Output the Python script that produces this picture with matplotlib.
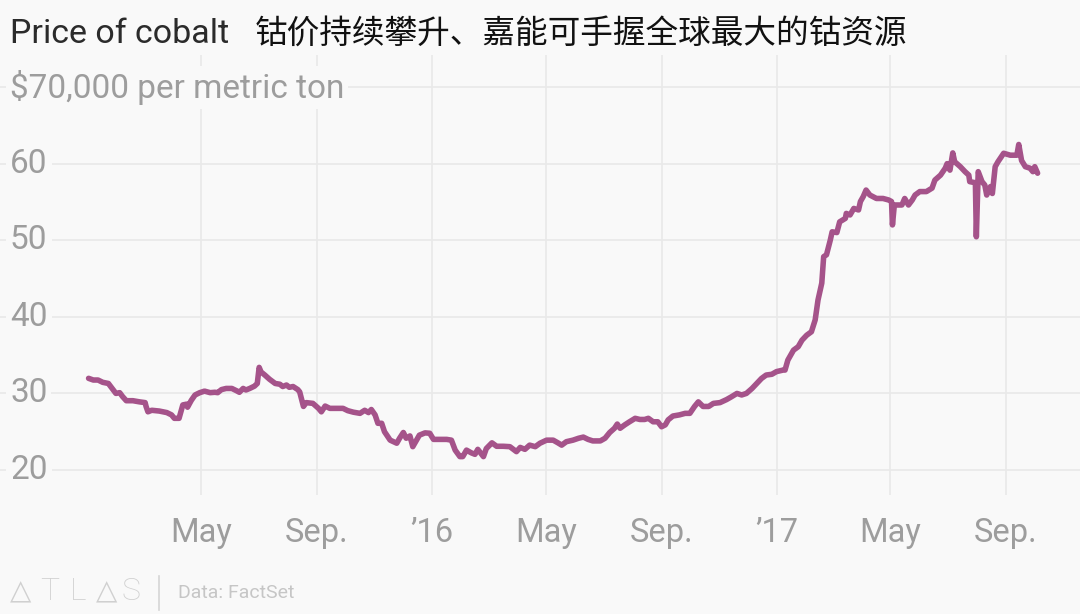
import numpy as np
import matplotlib
matplotlib.use("Agg")
import matplotlib.pyplot as plt
from matplotlib.lines import Line2D
import matplotlib.transforms as mtransforms

# Cobalt price, thousand $ per metric ton
# days counted from 2015-01-01
days = np.array([
    1, 6, 11, 16, 22, 27, 30, 34, 37, 41, 48, 55, 61, 62, 64, 68, 76, 84, 89, 92,
    97, 99, 101, 105, 106, 110, 114, 119, 124, 130, 135, 138, 142, 147, 153, 158,
    161, 165, 168, 172, 177, 180, 182, 184, 188, 193, 199, 204, 207, 211, 214, 218,
    223, 225, 229, 232, 239, 245, 248, 252, 257, 264, 271, 276, 282, 289, 294, 298,
    301, 305, 308, 312, 315, 321, 328, 331, 335, 338, 342, 345, 349, 352, 358, 363,
    367, 374, 381, 386, 390, 395, 398, 402, 407, 411, 414, 420, 423, 429, 434, 441,
    448, 455, 459, 464, 469, 475, 480, 487, 494, 499, 503, 508, 515, 521, 526, 531,
    536, 544, 549, 554, 559, 562, 565, 570, 575, 581, 586, 591, 595, 600, 605, 609,
    613, 616, 621, 628, 634, 639, 644, 648, 653, 659, 664, 671, 678, 683, 689, 694,
    699, 705, 710, 715, 720, 726, 731, 738, 740, 743, 749, 754, 758, 763, 768, 772,
    775, 779, 781, 784, 788, 790, 795, 798, 804, 805, 809, 813, 818, 820, 823, 826,
    830, 837, 844, 850, 853, 854, 856, 860, 864, 867, 871, 875, 878, 883, 890, 896,
    899, 905, 910, 912, 915, 918, 920, 926, 931, 935, 936, 942, 943, 945, 949, 952,
    954, 958, 960, 963, 966, 972, 979, 986, 988, 991, 995, 1000, 1003, 1005, 1008,
])
price = np.array([
    31.97, 31.75, 31.75, 31.45, 31.3, 30.5, 30.0, 30.1, 29.6, 29.05, 29.05, 28.9, 28.8, 28.3, 27.6, 27.8, 27.7, 27.5, 27.2, 26.75,
    26.75, 27.6, 28.5, 28.6, 28.2, 29.1, 29.8, 30.1, 30.3, 30.1, 30.15, 30.1, 30.5, 30.65, 30.65, 30.35,
    30.15, 30.65, 30.45, 30.65, 30.95, 31.3, 33.4, 32.8, 32.4, 31.85, 31.3, 31.2, 30.9, 31.1, 30.8, 30.9,
    30.5, 30.2, 28.3, 28.8, 28.7, 28.05, 27.6, 28.35, 28.05, 28.05, 28.05, 27.75, 27.55, 27.4, 27.8, 27.5,
    27.9, 27.2, 26.1, 26.1, 25.0, 23.9, 23.5, 24.15, 24.9, 24.15, 24.45, 23.05, 23.9, 24.55, 24.85, 24.8,
    24.0, 24.0, 24.0, 23.9, 22.6, 21.75, 21.75, 22.6, 22.25, 22.05, 22.7, 21.75, 22.8, 23.55, 23.1, 23.1,
    23.05, 22.4, 22.95, 22.7, 23.25, 23.05, 23.5, 23.9, 23.9, 23.55, 23.25, 23.7, 23.9, 24.15, 24.3, 24.0,
    23.8, 23.8, 24.15, 24.9, 25.45, 26.0, 25.45, 25.9, 26.3, 26.75, 26.6, 26.6, 26.75, 26.3, 26.3, 25.65,
    25.9, 26.55, 27.05, 27.2, 27.4, 27.4, 28.3, 28.9, 28.3, 28.3, 28.7, 28.8, 29.2, 29.55, 30.0, 29.8,
    30.0, 30.65, 31.3, 31.95, 32.4, 32.5, 32.85, 33.05, 33.05, 34.35, 35.65, 36.1, 36.95, 37.6, 38.05, 39.6,
    42.2, 44.4, 47.85, 48.1, 50.0, 51.1, 51.0, 52.4, 52.85, 53.5, 53.3, 54.15, 53.95, 55.05, 55.7, 56.55,
    55.9, 55.45, 55.45, 55.25, 55.05, 52.0, 54.6, 54.6, 54.6, 55.45, 54.6, 55.25, 55.9, 56.35, 56.35, 56.8,
    57.85, 58.5, 59.4, 60.0, 59.15, 61.4, 60.25, 59.6, 58.95, 58.5, 57.65, 57.5, 50.45, 58.95, 57.65, 57.2,
    55.9, 57.0, 56.1, 59.6, 60.25, 61.35, 61.1, 61.1, 62.5, 60.4, 59.6, 59.4, 58.95, 59.6, 58.75,
])

y_ticks = [20, 30, 40, 50, 60, 70]
y_labels = ["20", "30", "40", "50", "60", "$70,000 per metric ton"]
x_ticks = ["2015-05-01", "2015-09-01", "2016-01-01", "2016-05-01",
           "2016-09-01", "2017-01-01", "2017-05-01", "2017-09-01"]
x_labels = ["May", "Sep.", "\u201916", "May", "Sep.", "\u201917", "May", "Sep."]

start = np.datetime64("2015-01-01")
dates = start + days.astype("timedelta64[D]")

BG = "#f9f9f9"
LINE = "#a5538a"
GRID = "#e9e9e9"
LABEL = "#9d9d9d"
W, H = 1080, 614

plt.rcParams["font.family"] = ["Roboto", "DejaVu Sans"]

fig = plt.figure(figsize=(W / 100, H / 100), dpi=100, facecolor=BG)


def fx(px):
    return px / W


def fy(py):
    return 1 - py / H


ax = fig.add_axes([0, fy(495), 1, fy(55) - fy(495)])
ax.set_facecolor(BG)
ax.plot(dates, price, color=LINE, lw=4, solid_joinstyle="round",
        solid_capstyle="round", zorder=3)

ax.set_xlim(start - np.timedelta64(93, "D"), start + np.timedelta64(1053, "D"))
ax.set_ylim(16.74, 74.18)
for s in ax.spines.values():
    s.set_visible(False)

ax.set_yticks(y_ticks)
ax.set_xticks([np.datetime64(d) for d in x_ticks])
ax.set_xticklabels(x_labels)
ax.grid(True, color=GRID, lw=1.2, zorder=0)
ax.tick_params(axis="both", length=0)
ax.tick_params(axis="y", labelleft=False)
ax.tick_params(axis="x", labelsize=23.5, labelcolor=LABEL, pad=16)

trans = mtransforms.blended_transform_factory(ax.transAxes, ax.transData)
for v, lab in zip(y_ticks, y_labels):
    ax.text(fx(10), v, lab, transform=trans, ha="left", va="center",
            fontsize=24, color=LABEL, zorder=2,
            bbox=dict(fc=BG, ec="none", pad=3))

# title
fig.text(fx(10), fy(34), "Price of cobalt", fontsize=24.5, color="#2b2b2b",
         ha="left", va="center")
fig.text(fx(255), fy(34), "钴价持续攀升、嘉能可手握全球最大的钴资源",
         fontsize=23.5, color="#111111", ha="left", va="center",
         family=["Noto Sans CJK SC", "DejaVu Sans"])

# footer: ATLAS logo, separator, source
for ch, px in zip(["\u25b3", "T", "L", "\u25b3", "S"], [21, 50, 78, 107, 131]):
    if ch == "\u25b3":
        fig.text(fx(px), fy(591), ch, fontsize=20, color="#d0d0d0", ha="center",
                 va="center", family=["DejaVu Sans"])
    else:
        fig.text(fx(px), fy(592), ch, fontsize=23, color="#d0d0d0", ha="center",
                 va="center", family=["Roboto", "DejaVu Sans"], fontweight="light")
fig.add_artist(Line2D([fx(159), fx(159)], [fy(576), fy(610)], color="#d6d6d6", lw=1.2))
fig.text(fx(178), fy(593), "Data: FactSet", fontsize=14, color="#c6c6c6",
         ha="left", va="center")

fig.savefig("out.png", dpi=100, facecolor=BG)
